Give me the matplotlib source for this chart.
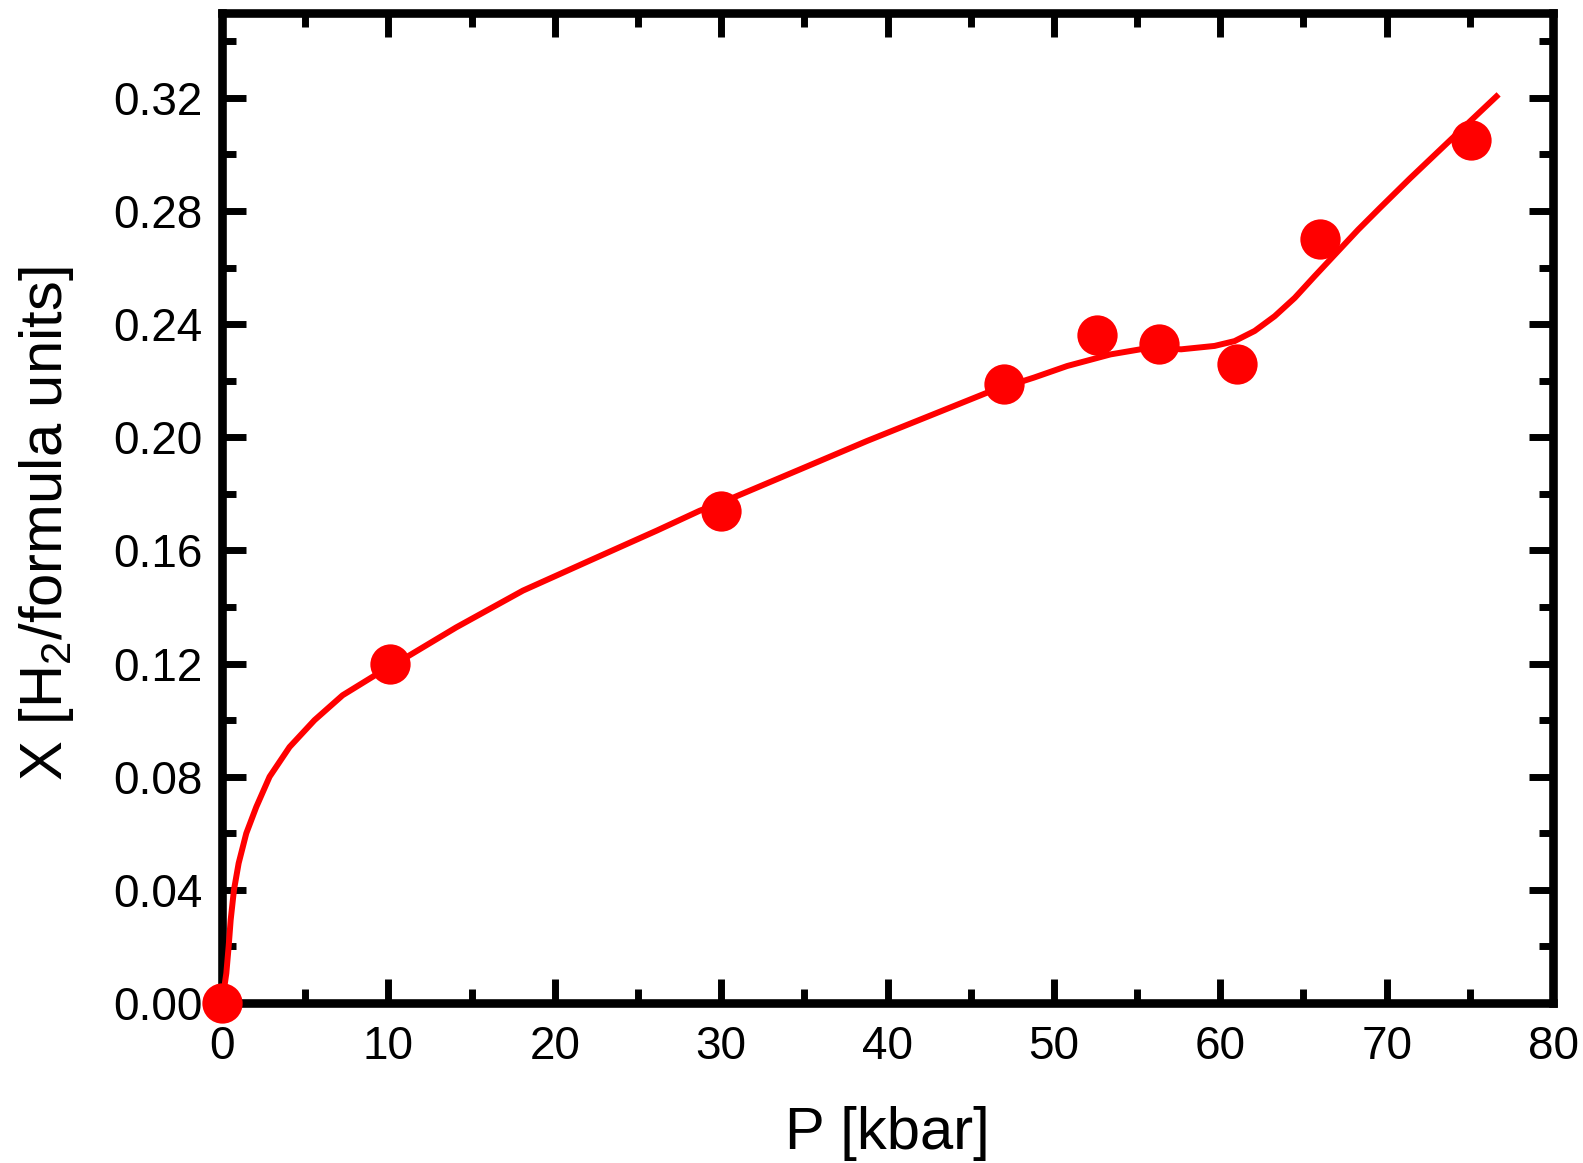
import matplotlib.pyplot as plt
from matplotlib.ticker import MultipleLocator, FormatStrFormatter

plt.rcParams['font.family'] = ['Liberation Sans', 'DejaVu Sans']

# measured points
pressure = [0.0, 10.1, 30.0, 47.0, 52.6, 56.3, 61.0, 66.0, 75.1]
x_h2 = [0.000, 0.120, 0.174, 0.219, 0.236, 0.233, 0.226, 0.270, 0.305]

# fitted curve
curve_p = [0.0, 0.26, 0.40, 0.52, 0.72, 1.0, 1.46, 2.06, 2.86, 4.06, 5.56,
           7.25, 9.46, 11.07, 14.08, 18.09, 22.1, 26.13, 28.7, 30.74, 34.76,
           38.77, 42.79, 46.0, 48.8, 50.8, 53.4, 55.8, 57.65, 59.66, 60.86,
           62.07, 63.27, 64.48, 65.68, 66.89, 68.29, 69.6, 71.4, 74.8, 76.6]
curve_x = [0.0, 0.0105, 0.020, 0.0293, 0.040, 0.0494, 0.060, 0.0693, 0.080,
           0.0905, 0.100, 0.1088, 0.1168, 0.1222, 0.1328, 0.1458, 0.1564,
           0.1670, 0.1740, 0.1787, 0.1887, 0.1987, 0.2082, 0.2158, 0.2211,
           0.2252, 0.2293, 0.2317, 0.2311, 0.2323, 0.2340, 0.2376, 0.2428,
           0.2493, 0.2570, 0.2646, 0.2734, 0.2811, 0.2915, 0.3105, 0.3205]

fig = plt.figure(figsize=(15.83, 11.63), dpi=100)
ax = fig.add_axes([222 / 1583, 1 - 1003 / 1163, (1553 - 222) / 1583, (1003 - 13) / 1163])

ax.plot(curve_p, curve_x, color="#ff0000", lw=4.3, zorder=3, solid_joinstyle="round")
ax.plot(pressure, x_h2, "o", color="#ff0000", ms=29, mew=0, zorder=4, clip_on=False)

ax.set_xlim(0, 80)
ax.set_ylim(0, 0.35)
ax.xaxis.set_major_locator(MultipleLocator(10))
ax.xaxis.set_minor_locator(MultipleLocator(5))
ax.yaxis.set_major_locator(MultipleLocator(0.04))
ax.yaxis.set_minor_locator(MultipleLocator(0.02))
ax.yaxis.set_major_formatter(FormatStrFormatter("%.2f"))

for sp in ax.spines.values():
    sp.set_linewidth(6.2)

ax.tick_params(which="both", direction="in", top=True, right=True, width=5, labelsize=33)
ax.tick_params(which="major", length=17)
ax.tick_params(which="minor", length=10)
ax.tick_params(axis="x", pad=16)
ax.tick_params(axis="y", pad=14)

ax.set_xlabel("P [kbar]", fontsize=43)
ax.set_ylabel(r"X [H$\mathregular{_2}$/formula units]", fontsize=43)
ax.xaxis.set_label_coords(0.5, -0.104)
ax.yaxis.set_label_coords(-0.11, 0.484)

fig.savefig("out.png", dpi=100)
